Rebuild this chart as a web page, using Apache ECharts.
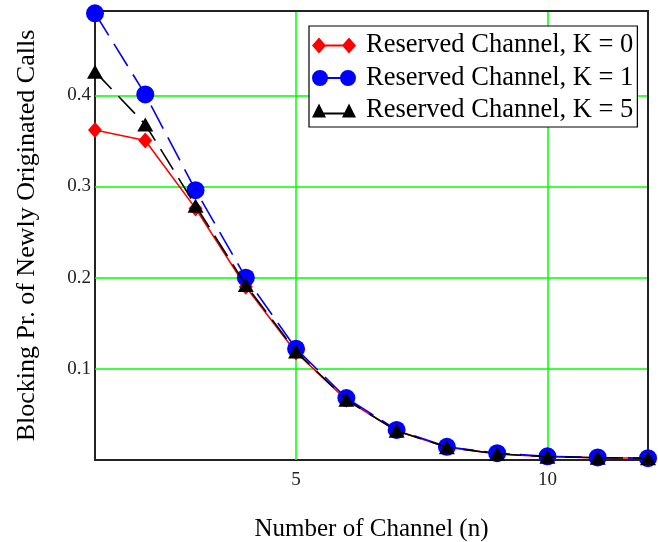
<!DOCTYPE html>
<html>
<head>
<meta charset="utf-8">
<script src="https://cdn.jsdelivr.net/npm/echarts@6/dist/echarts.min.js"></script>
<style>
html,body{margin:0;padding:0;background:#fff;}
#c{width:658px;height:542px;}
</style>
</head>
<body>
<div id="c"></div>
<script>
const channels = [1,2,3,4,5,6,7,8,9,10,11,12];
const seriesNames = ['Reserved Channel, K = 0','Reserved Channel, K = 1','Reserved Channel, K = 5'];
const k0 = [0.362, 0.3505, 0.276, 0.190, 0.118, 0.066, 0.032, 0.014, 0.0065, 0.0035, 0.0025, 0.002];
const k1 = [0.490, 0.401, 0.296, 0.200, 0.122, 0.068, 0.033, 0.0145, 0.0075, 0.004, 0.0028, 0.002];
const k5 = [0.426, 0.368, 0.279, 0.192, 0.119, 0.066, 0.032, 0.014, 0.0068, 0.0036, 0.0025, 0.002];
const xTicks = [5, 10];
const yTickLabels = ['0.1', '0.2', '0.3', '0.4'];

const FONT = '"Liberation Serif", "DejaVu Serif", serif';
const pair = v => channels.map((x, i) => [x, v[i]]);

const iconDiamond = 'path://M0 8 L7 0 L14 8 L7 16 Z M7 7 L37 7 L37 9 L7 9 Z M30 8 L37 0 L44 8 L37 16 Z';
const iconCircle = 'path://M0 8 A8 8 0 1 1 16 8 A8 8 0 1 1 0 8 Z M8 7 L36 7 L36 9 L8 9 Z M28 8 A8 8 0 1 1 44 8 A8 8 0 1 1 28 8 Z';
const iconTriangle = 'path://M0 15 L7 1 L14 15 Z M7 10 L37 10 L37 12 L7 12 Z M30 15 L37 1 L44 15 Z';

const frameAxis = {
  axisLine: {show: true, onZero: false, lineStyle: {color: '#222', width: 2}},
  axisTick: {show: false}, axisLabel: {show: false}, splitLine: {show: false}, z: 1
};

const chart = echarts.init(document.getElementById('c'), null, {renderer: 'canvas'});
chart.setOption({
  backgroundColor: '#fff',
  animation: false,
  grid: {
    left: 95, right: 10, top: 11, bottom: 82,
    containLabel: false, outerBoundsMode: 'none',
    show: true, borderColor: '#222', borderWidth: 2, backgroundColor: 'transparent'
  },
  legend: {
    orient: 'vertical',
    left: 309, top: 26,
    padding: [6, 4, 3, 3],
    itemGap: 5.5,
    itemWidth: 44, itemHeight: 16,
    borderColor: '#000', borderWidth: 1.2,
    backgroundColor: '#fff',
    textStyle: {fontFamily: FONT, fontSize: 26.5, color: '#000', lineHeight: 27, padding: [0, 0, 0, 5]},
    data: [
      {name: seriesNames[0], icon: iconDiamond},
      {name: seriesNames[1], icon: iconCircle},
      {name: seriesNames[2], icon: iconTriangle}
    ]
  },
  xAxis: [{
    type: 'value', min: 1, max: 12, position: 'bottom',
    name: 'Number of Channel (n)', nameLocation: 'middle', nameGap: 57,
    nameTextStyle: {fontFamily: FONT, fontSize: 25, color: '#000'},
    axisLine: {show: false},
    axisTick: {show: false, customValues: xTicks},
    axisLabel: {customValues: xTicks, fontFamily: FONT, fontSize: 19, color: '#222', margin: 11},
    splitLine: {show: true, lineStyle: {color: '#00ff00', width: 1.5}}
  }, Object.assign({type: 'value', min: 1, max: 12, position: 'top'}, frameAxis)],
  yAxis: [{
    type: 'value', min: 0, max: 0.4925, interval: 0.1, position: 'left',
    name: 'Blocking Pr. of Newly Originated Calls', nameLocation: 'middle', nameGap: 55,
    nameTextStyle: {fontFamily: FONT, fontSize: 26, color: '#000'},
    axisLine: {show: false},
    axisTick: {show: false},
    axisLabel: {fontFamily: FONT, fontSize: 19, color: '#222', margin: 4,
      formatter: v => {
        const s = (Math.round(v * 10) / 10).toString();
        return (yTickLabels.indexOf(s) >= 0 && Math.abs(v * 10 - Math.round(v * 10)) < 1e-6) ? s : '';
      }},
    splitLine: {show: true, showMinLine: false, showMaxLine: false, lineStyle: {color: '#00ff00', width: 1.5}}
  }, Object.assign({type: 'value', min: 0, max: 0.4925, position: 'right'}, frameAxis)],
  series: [
    {
      name: seriesNames[0], type: 'line', data: pair(k0),
      symbol: 'diamond', symbolSize: [14, 16],
      itemStyle: {color: '#ff0000'},
      lineStyle: {color: '#ff0000', width: 1.6, type: 'solid'},
      z: 2
    },
    {
      name: seriesNames[1], type: 'line', data: pair(k1),
      symbol: 'circle', symbolSize: 18,
      itemStyle: {color: '#0000ff'},
      lineStyle: {color: '#0000ff', width: 1.6, type: [26, 10]},
      z: 3
    },
    {
      name: seriesNames[2], type: 'line', data: pair(k5),
      symbol: 'triangle', symbolSize: [16, 14],
      itemStyle: {color: '#000000'},
      lineStyle: {color: '#000000', width: 1.6, type: [24, 10]},
      z: 4
    }
  ]
});
</script>
</body>
</html>
